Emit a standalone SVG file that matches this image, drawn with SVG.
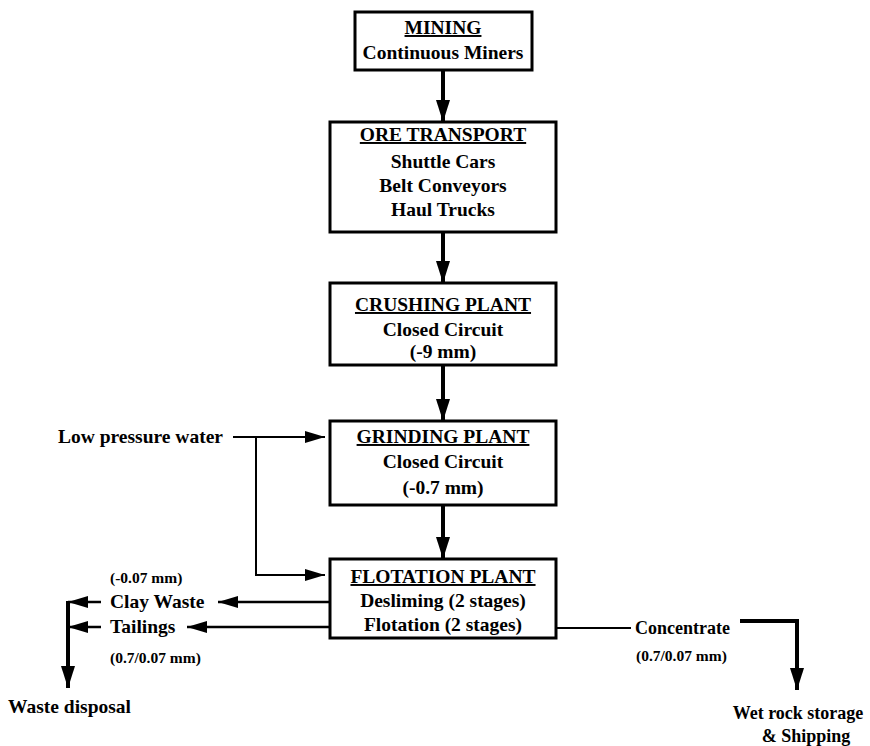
<svg xmlns="http://www.w3.org/2000/svg" width="870" height="746" viewBox="0 0 870 746">
<style>
.box{fill:#fff;stroke:#000;stroke-width:3}
.t{font-family:"Liberation Serif","Times New Roman",serif;font-weight:bold;font-size:19.5px;fill:#000}
.c{text-anchor:middle}
.u{text-decoration:underline}
.s{font-size:15.5px}
.w{font-size:18px}
.ln{fill:none;stroke:#000}
.thick{stroke-width:4}
.thin{stroke-width:2}
.med{stroke-width:2.5}
</style>
<defs>
<marker id="ah" markerUnits="userSpaceOnUse" markerWidth="22" markerHeight="14" refX="22" refY="7" orient="auto">
<path d="M0,0 L22,7 L0,14 z" fill="#000"/>
</marker>
<marker id="ahs" markerUnits="userSpaceOnUse" markerWidth="20" markerHeight="12" refX="20" refY="6" orient="auto">
<path d="M0,0 L20,6 L0,12 z" fill="#000"/>
</marker>
</defs>

<g id="connectors">
<line class="ln thick" x1="443" y1="70" x2="443" y2="122" marker-end="url(#ah)"/>
<line class="ln thick" x1="443" y1="232" x2="443" y2="283" marker-end="url(#ah)"/>
<line class="ln thick" x1="443" y1="365" x2="443" y2="421" marker-end="url(#ah)"/>
<line class="ln thick" x1="443" y1="505" x2="443" y2="559" marker-end="url(#ah)"/>
<line class="ln thin" x1="233" y1="437" x2="325" y2="437" marker-end="url(#ahs)"/>
<polyline class="ln thin" points="256,437 256,575 325,575" marker-end="url(#ahs)"/>
<line class="ln med" x1="330" y1="602" x2="218" y2="602" marker-end="url(#ahs)"/>
<line class="ln med" x1="330" y1="627" x2="187" y2="627" marker-end="url(#ahs)"/>
<line class="ln med" x1="101" y1="602" x2="68" y2="602" marker-end="url(#ahs)"/>
<line class="ln med" x1="101" y1="627" x2="68" y2="627" marker-end="url(#ahs)"/>
<line class="ln thick" x1="68" y1="601" x2="68" y2="688" marker-end="url(#ah)"/>
<line class="ln thin" x1="557" y1="628" x2="631" y2="628"/>
<polyline class="ln thick" points="740,621 797,621 797,690" marker-end="url(#ah)"/>
</g>

<g id="mining">
<rect class="box" x="355" y="12" width="177" height="58"/>
<text class="t c u" x="443" y="34">MINING</text>
<text class="t c" x="443" y="59">Continuous Miners</text>
</g>

<g id="ore-transport">
<rect class="box" x="330" y="122" width="226" height="110"/>
<text class="t c u" x="443" y="141">ORE TRANSPORT</text>
<text class="t c" x="443" y="168">Shuttle Cars</text>
<text class="t c" x="443" y="192">Belt Conveyors</text>
<text class="t c" x="443" y="216">Haul Trucks</text>
</g>

<g id="crushing-plant">
<rect class="box" x="330" y="283" width="226" height="82"/>
<text class="t c u" x="443" y="311">CRUSHING PLANT</text>
<text class="t c" x="443" y="336">Closed Circuit</text>
<text class="t c" x="443" y="358">(-9 mm)</text>
</g>

<g id="grinding-plant">
<rect class="box" x="330" y="421" width="226" height="84"/>
<text class="t c u" x="443" y="443">GRINDING PLANT</text>
<text class="t c" x="443" y="468">Closed Circuit</text>
<text class="t c" x="443" y="494">(-0.7 mm)</text>
</g>

<g id="flotation-plant">
<rect class="box" x="330" y="559" width="226" height="79"/>
<text class="t c u" x="443" y="583">FLOTATION PLANT</text>
<text class="t c" x="443" y="607">Desliming (2 stages)</text>
<text class="t c" x="443" y="631">Flotation (2 stages)</text>
</g>

<g id="low-pressure-water">
<text class="t" x="58" y="443">Low pressure water</text>
</g>

<g id="clay-waste">
<text class="t s" x="110" y="583">(-0.07 mm)</text>
<text class="t" x="110" y="608">Clay Waste</text>
</g>

<g id="tailings">
<text class="t" x="110" y="633">Tailings</text>
<text class="t s" x="110" y="663">(0.7/0.07 mm)</text>
</g>

<g id="waste-disposal">
<text class="t" x="8" y="713">Waste disposal</text>
</g>

<g id="concentrate">
<text class="t w" x="635" y="634">Concentrate</text>
<text class="t s" x="636" y="661">(0.7/0.07 mm)</text>
</g>

<g id="wet-rock-storage">
<text class="t c w" x="798" y="719">Wet rock storage</text>
<text class="t c w" x="806" y="742">&amp; Shipping</text>
</g>
</svg>
